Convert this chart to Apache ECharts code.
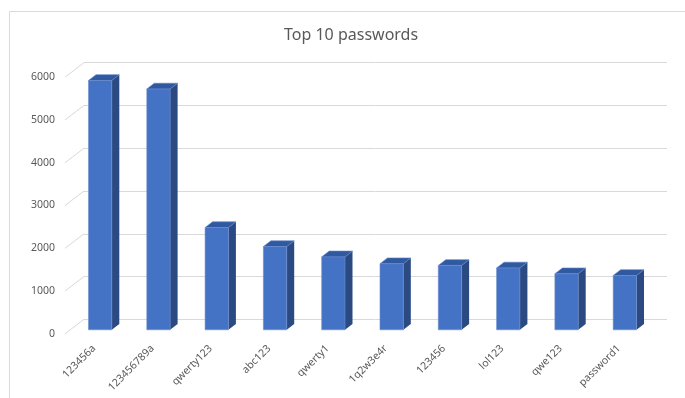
<!DOCTYPE html>
<html>
<head>
<meta charset="utf-8">
<script src="https://cdn.jsdelivr.net/npm/echarts@6/dist/echarts.min.js"></script>
<style>
  html, body { margin: 0; padding: 0; background: #fff; }
  #chart { width: 685px; height: 398px; }
</style>
</head>
<body>
<div id="chart"></div>
<script>
// Most common passwords and how often each one appears
const categories = ['123456a', '123456789a', 'qwerty123', 'abc123', 'qwerty1',
                    '1q2w3e4r', '123456', 'lol123', 'qwe123', 'password1'];
const counts = [5830, 5630, 2390, 1945, 1705, 1545, 1505, 1445, 1310, 1270];
const yTicks = [0, 1000, 2000, 3000, 4000, 5000, 6000];

// oblique depth of the floor (back wall -> front edge)
const DEPTH_X = 19, DEPTH_Y = 14.5;
// front face of the columns, measured from the back wall
const FACE_X = 13, FACE_Y = 10.5;
// thickness of each column
const COL_X = 7.5, COL_Y = 5.8;

const FRONT = '#4472C4', SIDE = '#2B4A82', TOP = '#3159A0';
const TEXT = '#595959', GRID = '#D9D9D9';
const FONT = '"Noto Sans", sans-serif';

const chart = echarts.init(document.getElementById('chart'), null, { renderer: 'canvas' });

function renderColumn(params, api) {
  const i = api.value(0), v = api.value(1);
  const top = api.coord([i, v]);
  const base = api.coord([i, 0]);
  const w = api.size([1, 0])[0] * 0.4;
  const cx = top[0] - FACE_X;
  const x0 = cx - w / 2, x1 = cx + w / 2;
  const yt = top[1] + FACE_Y, yb = base[1] + FACE_Y;
  return {
    type: 'group',
    children: [
      { type: 'polygon', shape: { points: [[x1, yt], [x1 + COL_X, yt - COL_Y], [x1 + COL_X, yb - COL_Y], [x1, yb]] },
        style: { fill: SIDE } },
      { type: 'polygon', shape: { points: [[x0, yt], [x0 + COL_X, yt - COL_Y], [x1 + COL_X, yt - COL_Y], [x1, yt]] },
        style: { fill: TOP, stroke: '#5E83C8', lineWidth: 0.6 } },
      { type: 'rect', shape: { x: x0, y: yt, width: w, height: yb - yt },
        style: { fill: FRONT, stroke: '#6B8FD0', lineWidth: 0.6 } }
    ]
  };
}

function renderSideTick(params, api) {
  const p = api.coord([0, api.value(1)]);
  const left = params.coordSys.x;
  return {
    type: 'line',
    shape: { x1: left, y1: p[1], x2: left - DEPTH_X, y2: p[1] + DEPTH_Y },
    style: { stroke: GRID, lineWidth: 1 }
  };
}

const option = {
  animation: false,
  backgroundColor: '#fff',
  title: {
    text: 'Top 10 passwords',
    left: 279, top: 22,
    textStyle: { fontFamily: FONT, fontSize: 16, fontWeight: 'normal', color: TEXT }
  },
  graphic: [{
    type: 'rect', silent: true,
    shape: { x: 9.5, y: 11.5, width: 700, height: 420 },
    style: { fill: 'none', stroke: GRID, lineWidth: 1 }
  }],
  grid: [
    // back wall
    { left: 84, right: 18, top: 62.7, bottom: 78.7 },
    // front edge, carries the axis labels
    { left: 84 - DEPTH_X, right: 18 + DEPTH_X, top: 62.7 + DEPTH_Y, bottom: 78.7 - DEPTH_Y }
  ],
  xAxis: [
    { type: 'category', gridIndex: 0, data: categories,
      axisLine: { show: false }, axisTick: { show: false }, axisLabel: { show: false } },
    { type: 'category', gridIndex: 1, data: categories,
      axisLine: { show: false }, axisTick: { show: false },
      axisLabel: { rotate: 45, margin: 13, interval: 0, color: TEXT, fontFamily: FONT, fontSize: 10.5 } }
  ],
  yAxis: [
    { type: 'value', gridIndex: 0, min: 0, max: 6000, interval: 1000,
      axisLine: { show: false }, axisTick: { show: false }, axisLabel: { show: false },
      splitLine: { lineStyle: { color: GRID, width: 1 } } },
    { type: 'value', gridIndex: 1, min: 0, max: 6000, interval: 1000,
      axisLine: { show: false }, axisTick: { show: false }, splitLine: { show: false },
      axisLabel: { margin: 10, color: TEXT, fontFamily: FONT, fontSize: 10.5,
                   formatter: v => String(v) } }
  ],
  series: [
    { type: 'custom', xAxisIndex: 0, yAxisIndex: 0, silent: true,
      renderItem: renderSideTick,
      data: yTicks.map(t => [0, t]) },
    { type: 'custom', xAxisIndex: 0, yAxisIndex: 0,
      renderItem: renderColumn,
      data: counts.map((c, i) => [i, c]) }
  ]
};

chart.setOption(option);
</script>
</body>
</html>
